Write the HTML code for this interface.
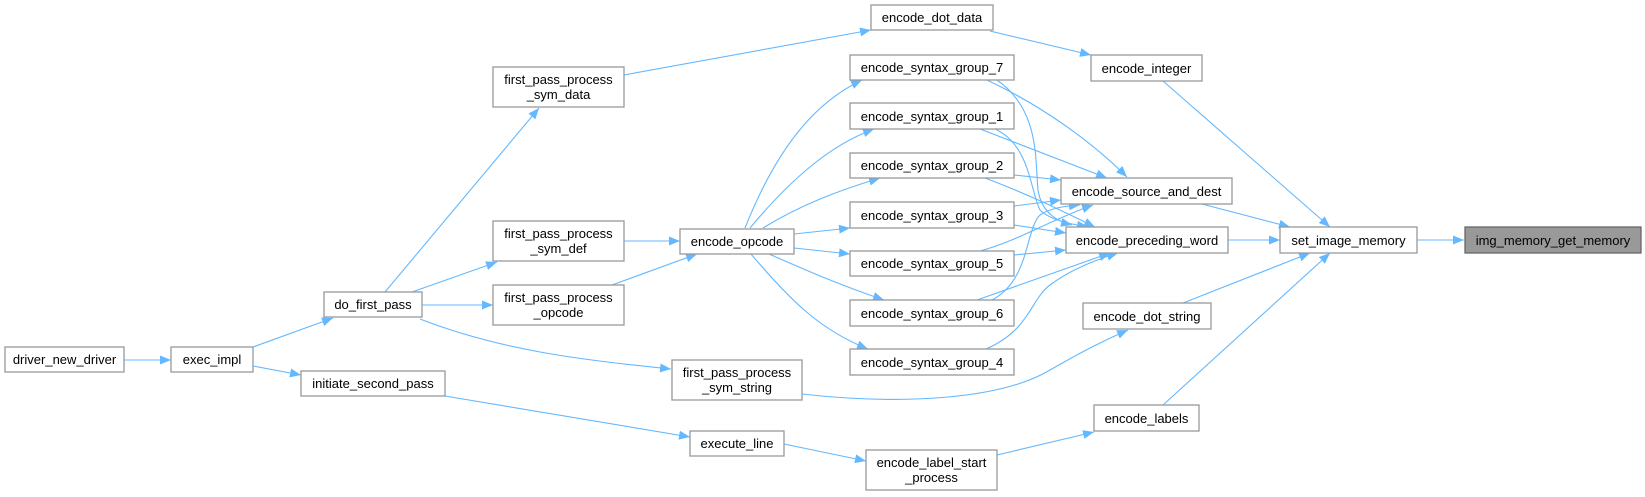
<!DOCTYPE html>
<html><head><meta charset="utf-8"><style>
html,body{margin:0;padding:0;background:#fff;}
svg{display:block;}
text{font-family:"Liberation Sans",Arial,sans-serif;font-size:13px;fill:#000;}
</style></head><body>
<svg width="1645" height="497" viewBox="0 0 1645 497" xmlns="http://www.w3.org/2000/svg">
<defs>
<marker id="a" markerWidth="12" markerHeight="10" refX="11" refY="4.5" orient="auto" markerUnits="userSpaceOnUse">
<path d="M0,0 L11,4.5 L0,9 Z" fill="#63b8ff"/>
</marker>
</defs>
<g fill="none" stroke="#63b8ff" stroke-width="1.1" marker-end="url(#a)">
<path d="M124,360 L171,360"/>
<path d="M253,347 L333,318"/>
<path d="M253,366 L301,375"/>
<path d="M385,292 L539,108"/>
<path d="M412,292 L497,262"/>
<path d="M422,305 L493,305"/>
<path d="M420,319 C500,350 580,360 671,369"/>
<path d="M445,396 L690,437"/>
<path d="M624,75 L871,30"/>
<path d="M624,241 L680,241"/>
<path d="M612,285 L697,254"/>
<path d="M745,228 C780,140 820,100 862,80"/>
<path d="M750,228 C790,180 830,145 874,129"/>
<path d="M763,228 C800,205 840,190 880,178"/>
<path d="M794,234 L850,228"/>
<path d="M794,248 L850,254"/>
<path d="M769,254 C810,272 840,285 884,300"/>
<path d="M751,254 C790,300 820,330 868,349"/>
<path d="M802,394 C900,405 1000,400 1050,370 C1085,350 1105,340 1128,330"/>
<path d="M784,444 L866,461"/>
<path d="M997,455 L1094,432"/>
<path d="M990,31 L1091,55"/>
<path d="M987,80 C1040,105 1090,140 1127,177"/>
<path d="M997,80 C1040,110 1035,160 1038,190 C1042,215 1060,222 1072,225"/>
<path d="M980,129 L1107,178"/>
<path d="M995,129 C1030,145 1030,190 1040,210 C1050,220 1070,224 1088,227"/>
<path d="M1014,175 L1061,180"/>
<path d="M985,178 C1030,195 1060,210 1095,227"/>
<path d="M1014,206 L1061,200"/>
<path d="M1014,225 L1066,233"/>
<path d="M980,251 C1020,240 1050,220 1093,205"/>
<path d="M1014,255 L1066,250"/>
<path d="M977,300 L1110,253"/>
<path d="M992,300 C1030,280 1025,230 1040,215 C1050,208 1065,206 1080,205"/>
<path d="M986,349 C1030,330 1030,300 1050,285 C1070,270 1095,260 1118,253"/>
<path d="M1163,81 L1330,227"/>
<path d="M1202,204 L1290,227"/>
<path d="M1228,240 L1280,240"/>
<path d="M1417,240 L1464,240"/>
<path d="M1183,303 L1310,253"/>
<path d="M1163,405 L1330,253"/>
</g>
<g stroke="#999" stroke-width="1.3" fill="#fff">
<rect x="5" y="347" width="119" height="25"/>
<rect x="171" y="347" width="82" height="25"/>
<rect x="324" y="292" width="98" height="25"/>
<rect x="301" y="371" width="144" height="25"/>
<rect x="493" y="67" width="131" height="40"/>
<rect x="493" y="221" width="131" height="40"/>
<rect x="493" y="285" width="131" height="40"/>
<rect x="680" y="229" width="114" height="25"/>
<rect x="672" y="360" width="130" height="40"/>
<rect x="690" y="431" width="94" height="25"/>
<rect x="871" y="5" width="122" height="25"/>
<rect x="850" y="55" width="164" height="25"/>
<rect x="850" y="103" width="164" height="26"/>
<rect x="850" y="153" width="164" height="25"/>
<rect x="850" y="202" width="164" height="26"/>
<rect x="850" y="251" width="164" height="25"/>
<rect x="850" y="300" width="164" height="26"/>
<rect x="850" y="349" width="164" height="26"/>
<rect x="1091" y="55" width="111" height="26"/>
<rect x="1061" y="178" width="171" height="26"/>
<rect x="1066" y="227" width="162" height="26"/>
<rect x="1280" y="227" width="137" height="26"/>
<rect x="1465" y="227" width="176" height="26" fill="#999" stroke="#666"/>
<rect x="1083" y="303" width="128" height="26"/>
<rect x="1094" y="405" width="105" height="26"/>
<rect x="866" y="450" width="131" height="40"/>
</g>
<g text-anchor="middle">
<text x="64.5" y="364">driver_new_driver</text>
<text x="212" y="364">exec_impl</text>
<text x="373" y="309">do_first_pass</text>
<text x="373" y="388">initiate_second_pass</text>
<text x="558.5" y="84">first_pass_process</text>
<text x="558.5" y="99">_sym_data</text>
<text x="558.5" y="238">first_pass_process</text>
<text x="558.5" y="253">_sym_def</text>
<text x="558.5" y="302">first_pass_process</text>
<text x="558.5" y="317">_opcode</text>
<text x="737" y="246">encode_opcode</text>
<text x="737" y="377">first_pass_process</text>
<text x="737" y="392">_sym_string</text>
<text x="737" y="448">execute_line</text>
<text x="932" y="22">encode_dot_data</text>
<text x="932" y="72">encode_syntax_group_7</text>
<text x="932" y="121">encode_syntax_group_1</text>
<text x="932" y="170">encode_syntax_group_2</text>
<text x="932" y="220">encode_syntax_group_3</text>
<text x="932" y="268">encode_syntax_group_5</text>
<text x="932" y="318">encode_syntax_group_6</text>
<text x="932" y="367">encode_syntax_group_4</text>
<text x="1146.5" y="73">encode_integer</text>
<text x="1146.5" y="196">encode_source_and_dest</text>
<text x="1147" y="245">encode_preceding_word</text>
<text x="1348.5" y="245">set_image_memory</text>
<text x="1553" y="245">img_memory_get_memory</text>
<text x="1147" y="321">encode_dot_string</text>
<text x="1146.5" y="423">encode_labels</text>
<text x="931.5" y="467">encode_label_start</text>
<text x="931.5" y="482">_process</text>
</g>
</svg>
</body></html>
